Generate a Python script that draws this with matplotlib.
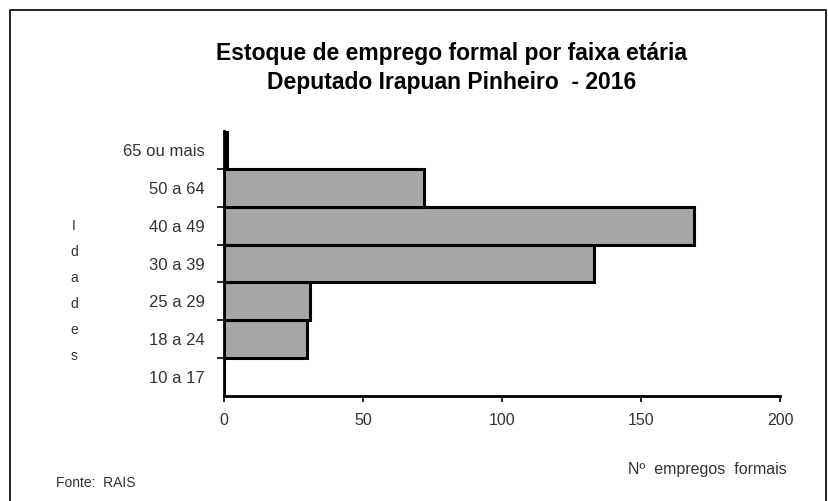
import matplotlib.pyplot as plt
from matplotlib.patches import Rectangle

# faixas etárias (de baixo para cima) e estoque de empregos formais
faixas = ['10 a 17', '18 a 24', '25 a 29', '30 a 39', '40 a 49', '50 a 64', '65 ou mais']
empregos = [0, 30, 31, 133, 169, 72, 1]
xticks = [0, 50, 100, 150, 200]

plt.rcParams['font.family'] = ['Liberation Sans', 'DejaVu Sans']

fig = plt.figure(figsize=(8.29, 5.01), dpi=100)
ax = fig.add_axes([0.2702, 0.2096, 0.6707, 0.5289])

pos = list(range(len(faixas)))
ax.barh(pos, empregos, height=1.0, color='#a6a6a6', edgecolor='black', linewidth=2.2)

ax.set_xlim(0, 200)
ax.set_ylim(-0.5, len(faixas) - 0.5)
ax.set_xticks(xticks)
ax.set_xticklabels([str(t) for t in xticks], fontsize=11.5, color='#333333')
ax.set_yticks(pos)
ax.set_yticklabels(faixas, fontsize=12, color='#333333')
ax.tick_params(axis='y', length=0, pad=14)
ax.tick_params(axis='x', direction='out', length=4, width=1.2, pad=8)
ax.set_yticks([p + 0.5 for p in pos[:-1]], minor=True)
ax.tick_params(axis='y', which='minor', direction='out', length=5, width=1.2)

for side in ['top', 'right']:
    ax.spines[side].set_visible(False)
for side in ['left', 'bottom']:
    ax.spines[side].set_linewidth(2)

# título em duas linhas
fig.text(0.545, 0.894, 'Estoque de emprego formal por faixa etária',
         ha='center', va='center', fontsize=16.5, fontweight='bold')
fig.text(0.545, 0.836, 'Deputado Irapuan Pinheiro  - 2016',
         ha='center', va='center', fontsize=16.5, fontweight='bold')

# rótulo vertical do eixo y, letra por letra
fig.text(0.089, 0.419, 'I\nd\na\nd\ne\ns', ha='center', va='center',
         fontsize=10, color='#333333', linespacing=2.1)

fig.text(0.116, 0.036, 'Fonte:  RAIS', ha='center', va='center', fontsize=10, color='#333333')
fig.text(0.853, 0.062, 'Nº  empregos  formais', ha='center', va='center', fontsize=11.5, color='#333333')

# moldura externa
fig.patches.append(Rectangle((0.012, -0.01), 0.984, 0.99, transform=fig.transFigure,
                             fill=False, edgecolor='black', linewidth=1.2))

fig.savefig('out.png', dpi=100)
